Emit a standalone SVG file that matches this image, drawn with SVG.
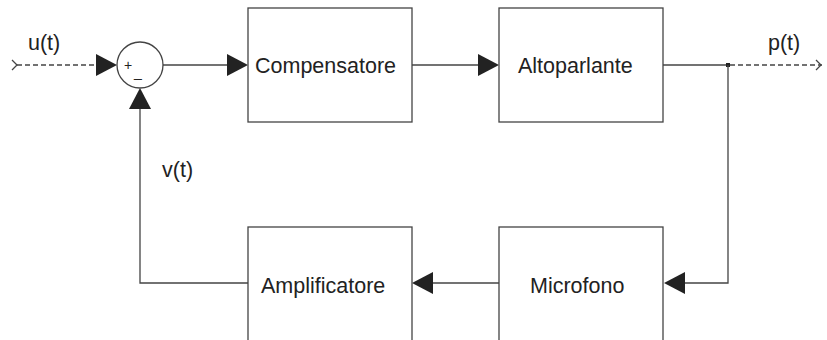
<svg xmlns="http://www.w3.org/2000/svg" width="827" height="340" viewBox="0 0 827 340">
<defs>
<style>
.box{fill:#fff;stroke:#444;stroke-width:1.3}
.ln{fill:none;stroke:#444;stroke-width:1.3}
.dash{fill:none;stroke:#444;stroke-width:1.3;stroke-dasharray:5,3}
.ah{fill:#222;stroke:none}
.t{font-family:"Liberation Sans",Arial,sans-serif;font-size:21.5px;fill:#222}
.s{font-family:"Liberation Sans",Arial,sans-serif;font-size:14px;fill:#222}
</style>
</defs>
<rect width="827" height="340" fill="#fff"/>
<g id="connectors">
<path class="dash" d="M17 65 H96"/>
<path class="ln" d="M12 60 L17 65 L12 70"/>
<polygon class="ah" points="117,65 96,54 96,76"/>
<path class="ln" d="M163 65 H228"/>
<polygon class="ah" points="248,65 227,54 227,76"/>
<path class="ln" d="M412 65 H479"/>
<polygon class="ah" points="499,65 478,54 478,76"/>
<path class="ln" d="M663 65 H728"/>
<path class="dash" d="M730 65 H822"/>
<path class="ln" d="M816 60 L821 65 L816 70"/>
<rect x="726" y="63" width="4" height="4" fill="#222"/>
<path class="ln" d="M728 65 V283 H685"/>
<polygon class="ah" points="664,283 685,272 685,294"/>
<path class="ln" d="M499 283 H433"/>
<polygon class="ah" points="412,283 433,272 433,294"/>
<path class="ln" d="M248 283 H140 V108"/>
<polygon class="ah" points="140,88 129,109 151,109"/>
</g>
<g id="sum">
<circle cx="140" cy="65" r="23" fill="#fff" stroke="#444" stroke-width="1.3"/>
<text class="s" x="128" y="70" text-anchor="middle">+</text>
<text class="s" x="138" y="77" text-anchor="middle">_</text>
</g>
<g id="compensatore">
<rect class="box" x="248" y="8" width="164" height="114"/>
<text class="t" x="255" y="73">Compensatore</text>
</g>
<g id="altoparlante">
<rect class="box" x="499" y="8" width="164" height="114"/>
<text class="t" x="518" y="73">Altoparlante</text>
</g>
<g id="microfono">
<rect class="box" x="499" y="227" width="164" height="115"/>
<text class="t" x="530" y="293">Microfono</text>
</g>
<g id="amplificatore">
<rect class="box" x="248" y="227" width="164" height="115"/>
<text class="t" x="261" y="293">Amplificatore</text>
</g>
<g id="labels">
<text class="t" x="28" y="50">u(t)</text>
<text class="t" x="768" y="50">p(t)</text>
<text class="t" x="162" y="177">v(t)</text>
</g>
</svg>
